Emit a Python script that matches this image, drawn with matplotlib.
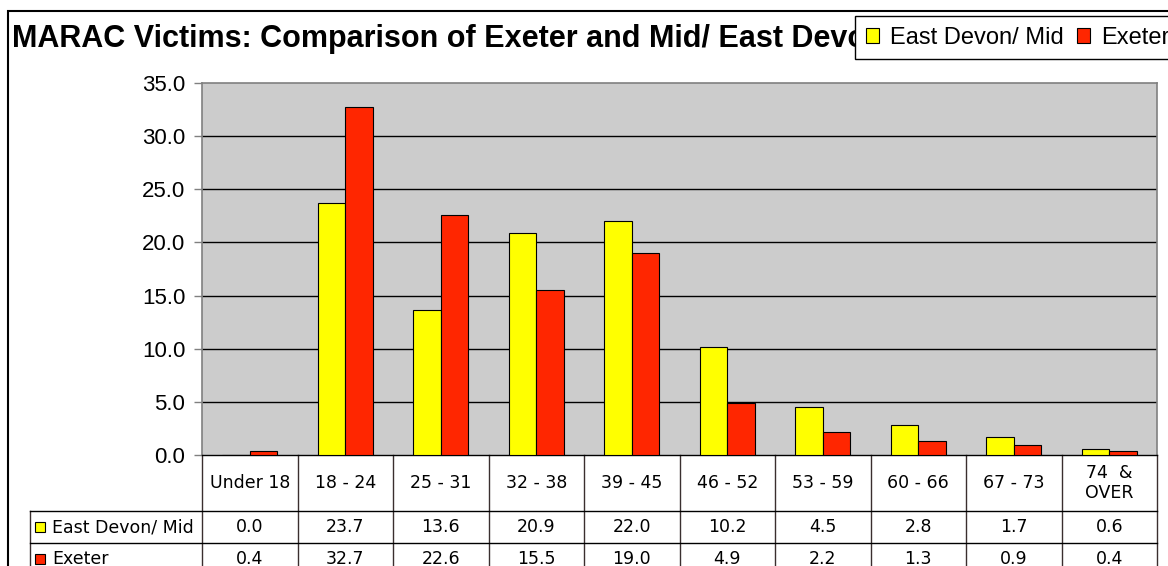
import matplotlib
matplotlib.use("Agg")
import matplotlib.pyplot as plt
import numpy as np
from matplotlib.patches import Rectangle

# data
categories = ["Under 18", "18 - 24", "25 - 31", "32 - 38", "39 - 45",
              "46 - 52", "53 - 59", "60 - 66", "67 - 73", "74  &\nOVER"]
series_names = ["East Devon/ Mid", "Exeter"]
east_devon_mid = [0.0, 23.7, 13.6, 20.9, 22.0, 10.2, 4.5, 2.8, 1.7, 0.6]
exeter = [0.4, 32.7, 22.6, 15.5, 19.0, 4.9, 2.2, 1.3, 0.9, 0.4]
yticks = [0, 5, 10, 15, 20, 25, 30, 35]
title = "MARAC Victims: Comparison of Exeter and Mid/ East Devon"

yellow = "#FFFF00"
red = "#FF2600"
W, H = 1168, 566

fig = plt.figure(figsize=(W / 100, H / 100), dpi=100)
# plot area in pixels: x 202..1157, y 83..455
ax = fig.add_axes([202 / W, 1 - 455 / H, (1157 - 202) / W, (455 - 83) / H])
ax.set_facecolor("#CCCCCC")

x = np.arange(len(categories))
bw = 1 / 3.5
ax.bar(x - bw / 2, east_devon_mid, bw, color=yellow, edgecolor="black", linewidth=0.8, zorder=3,
       label=series_names[0])
ax.bar(x + bw / 2, exeter, bw, color=red, edgecolor="black", linewidth=0.8, zorder=3,
       label=series_names[1])

ax.set_xlim(-0.5, len(categories) - 0.5)
ax.set_ylim(0, 35)
ax.set_yticks(yticks)
ax.set_yticklabels(["%.1f" % v for v in yticks], fontsize=16, family="Liberation Sans")
ax.tick_params(axis="y", length=6, width=1, color="#808080", pad=6)
ax.set_xticks([])
for y in yticks[1:-1]:
    ax.axhline(y, color="black", linewidth=1, zorder=1)
for s in ["top", "right", "left"]:
    ax.spines[s].set_color("#808080")
    ax.spines[s].set_linewidth(1.2)
ax.spines["bottom"].set_color("black")
ax.spines["bottom"].set_linewidth(1)

# data table under the plot
trans = ax.get_xaxis_transform()
ax_h = 455 - 83
cat_h = 56 / ax_h
row_h = 32 / ax_h
left = -0.5 - 172 / 95.5
right = len(categories) - 0.5
y_cat_bot = -cat_h
y_r1_bot = -cat_h - row_h
y_r2_bot = -cat_h - 2 * row_h
lc = "#3a2f2f"
tfont = dict(family="DejaVu Sans", fontsize=12.5)

for b in np.arange(-0.5, len(categories)):
    ax.plot([b, b], [0, y_r2_bot], color=lc, lw=1, transform=trans, clip_on=False)
ax.plot([left, left], [y_cat_bot, y_r2_bot], color=lc, lw=1, transform=trans, clip_on=False)
for yy in [y_cat_bot, y_r1_bot, y_r2_bot]:
    ax.plot([left, right], [yy, yy], color="black", lw=1, transform=trans, clip_on=False)

for i, c in enumerate(categories):
    ax.text(i, -cat_h / 2, c, ha="center", va="center", transform=trans, linespacing=1.1, **tfont)
    ax.text(i, y_cat_bot - row_h / 2, "%.1f" % east_devon_mid[i], ha="center", va="center",
            transform=trans, **tfont)
    ax.text(i, y_r1_bot - row_h / 2, "%.1f" % exeter[i], ha="center", va="center",
            transform=trans, **tfont)

for k, (name, col) in enumerate(zip(series_names, [yellow, red])):
    yc = y_cat_bot - row_h * (k + 0.5)
    ax.plot([left + 0.1], [yc], marker="s", ms=7, mfc=col, mec="black", mew=0.8,
            transform=trans, clip_on=False)
    ax.text(left + 0.23, yc, name, ha="left", va="center", transform=trans, **tfont)

# outer chart frame
fig.patches.append(Rectangle((8 / W, -0.1), 1.2, 1 - 11 / H + 0.1, transform=fig.transFigure,
                             fill=False, edgecolor="black", linewidth=1.5))

fig.text(12 / W, 1 - 39 / H, title, fontsize=22, fontweight="bold", family="Liberation Sans",
         ha="left", va="center")

leg = fig.legend(loc="upper left", bbox_to_anchor=(855 / W, 1 - 16 / H), ncol=2,
                 prop=dict(family="Liberation Sans", size=17), frameon=True, fancybox=False,
                 handlelength=0.58, handleheight=0.58, handletextpad=0.45, columnspacing=0.55,
                 borderpad=0.45, borderaxespad=0)
leg.get_frame().set_edgecolor("black")
leg.get_frame().set_linewidth(1)
leg.get_frame().set_alpha(1)

fig.savefig("out.png", dpi=100)
